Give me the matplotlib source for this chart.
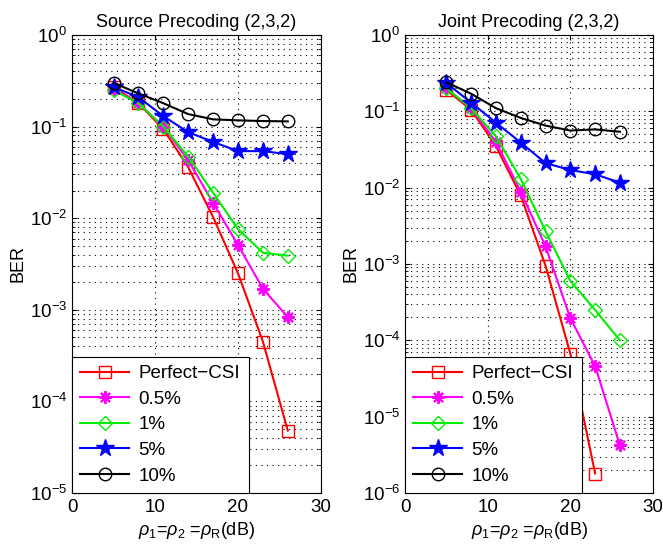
import matplotlib
matplotlib.use("Agg")
import matplotlib.pyplot as plt
import numpy as np

plt.rcParams['font.family'] = ['Liberation Sans', 'DejaVu Sans']
plt.rcParams['mathtext.fontset'] = 'custom'
plt.rcParams['mathtext.rm'] = 'Liberation Sans'
plt.rcParams['mathtext.it'] = 'Liberation Sans:italic'

snr = [5, 8, 11, 14, 17, 20, 23, 26]
labels = ['Perfect\u2212CSI', '0.5%', '1%', '5%', '10%']

# Source Precoding (2,3,2)
src_perfect = [0.27, 0.18, 0.094, 0.036, 0.0103, 0.0025, 4.5e-4, 4.8e-5]
src_05 = [0.26, 0.18, 0.10, 0.043, 0.0147, 0.0051, 0.0017, 8.3e-4]
src_1 = [0.25, 0.18, 0.10, 0.047, 0.019, 0.0076, 0.0042, 0.0039]
src_5 = [0.27, 0.21, 0.13, 0.087, 0.068, 0.054, 0.054, 0.050]
src_10 = [0.30, 0.23, 0.18, 0.137, 0.12, 0.117, 0.115, 0.114]

# Joint Precoding (2,3,2)
jnt_snr_perfect = [5, 8, 11, 14, 17, 20, 23]
jnt_perfect = [0.19, 0.105, 0.035, 0.0079, 9.5e-4, 6.7e-5, 1.8e-6]
jnt_05 = [0.20, 0.11, 0.040, 0.0089, 0.0017, 1.95e-4, 4.6e-5, 4.2e-6]
jnt_1 = [0.20, 0.11, 0.047, 0.013, 0.0027, 6.0e-4, 2.5e-4, 1.0e-4]
jnt_5 = [0.235, 0.13, 0.071, 0.039, 0.021, 0.017, 0.015, 0.0116]
jnt_10 = [0.24, 0.17, 0.11, 0.082, 0.065, 0.056, 0.058, 0.054]

styles = [
    dict(color='#ff0000', marker='s', ms=8, mfc='none'),
    dict(color='#ff00ff', marker=(8, 2, 0), ms=9, mew=1.5),
    dict(color='#00ee00', marker='D', ms=7, mfc='none'),
    dict(color='#0000ff', marker='*', ms=13),
    dict(color='#000000', marker='o', ms=9, mfc='none'),
]

fig = plt.figure(figsize=(6.63, 5.5), dpi=100)
ax1 = fig.add_axes([72 / 663, 1 - 493 / 550, 249 / 663, 458 / 550])
ax2 = fig.add_axes([405 / 663, 1 - 493 / 550, 248 / 663, 458 / 550])

panels = [
    (ax1, 'Source Precoding (2,3,2)',
     [(snr, src_perfect), (snr, src_05), (snr, src_1), (snr, src_5), (snr, src_10)], 1e-5),
    (ax2, 'Joint Precoding (2,3,2)',
     [(jnt_snr_perfect, jnt_perfect), (snr, jnt_05), (snr, jnt_1), (snr, jnt_5), (snr, jnt_10)], 1e-6),
]

grid_style = dict(color='black', linestyle=(0, (1, 4)), linewidth=0.8)

for ax, title, series, ymin in panels:
    for (xs, ys), lab, st in zip(series, labels, styles):
        ax.semilogy(xs, ys, lw=1.5, label=lab, **st)
    ax.set_xlim(0, 30)
    ax.set_ylim(ymin, 1)
    ax.set_xticks([0, 10, 20, 30])
    ax.set_title(title, fontsize=13, pad=6)
    ax.set_ylabel('BER', fontsize=13, labelpad=2)
    ax.set_xlabel(r'$\rho_1$=$\rho_2$ =$\rho_\mathrm{R}$(dB)', fontsize=13)
    ax.xaxis.set_label_coords(0.5, -0.058)
    ax.xaxis.label.set_va('top')
    ax.tick_params(which='both', direction='in', top=True, right=True, labelsize=13.5)
    ax.tick_params(axis='x', pad=4)
    ax.tick_params(which='minor', length=2)
    ax.grid(True, which='major', **grid_style)
    ax.grid(True, which='minor', axis='y', **grid_style)
    leg = ax.legend(loc='lower left', fontsize=13.5, fancybox=False, framealpha=1,
                    edgecolor='black', handlelength=2.6, borderaxespad=0,
                    labelspacing=0.45, borderpad=0.45, handletextpad=0.5)
    leg.get_frame().set_linewidth(0.8)

plt.savefig('out.png', dpi=100)
